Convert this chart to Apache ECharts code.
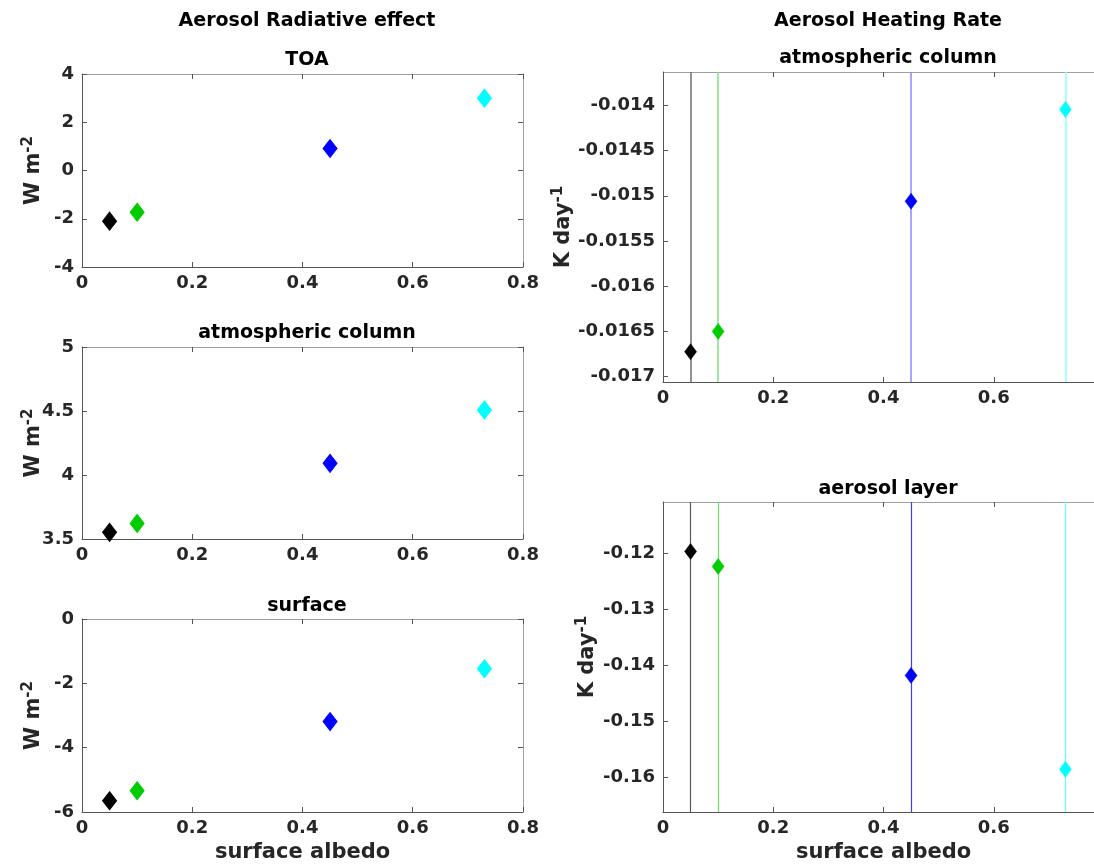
<!DOCTYPE html>
<html>
<head>
<meta charset="utf-8">
<script src="https://cdn.jsdelivr.net/npm/echarts@6/dist/echarts.min.js"></script>
<style>
  html, body { margin: 0; padding: 0; background: #fff; }
  #chart { width: 1094px; height: 866px; }
</style>
</head>
<body>
<div id="chart"></div>
<script>
// surface albedo of the four cases
var albedo = [0.05, 0.1, 0.45, 0.73];
var caseColors = ['#000000', '#00cc00', '#0000ff', '#00ffff'];
// aerosol radiative effect, W m-2
var toa = [-2.1, -1.73, 0.91, 3.0];
var atmColumn = [3.552, 3.622, 4.091, 4.508];
var surface = [-5.65, -5.34, -3.19, -1.545];
// aerosol heating rate, K day-1
var hrColumn = [-0.016725, -0.0165, -0.01506, -0.014044];
var hrLayer = [-0.1197, -0.12238, -0.14179, -0.15851];
// colours of the vertical lines in the right panels
var lineColorsTop = ['#6e6e6e', '#7ee27e', '#8a8aff', '#8affff'];
var lineColorsBottom = ['#5a5a5a', '#6ee06e', '#4040f0', '#6affff'];

var font = 'DejaVu Sans';
var txt = '#262626';

var chart = echarts.init(document.getElementById('chart'));

// grids: left, top, width, height (right column runs past the page edge, as in the original)
var grids = [
  { left: 82, top: 74, width: 441, height: 193 },
  { left: 82, top: 347, width: 441, height: 192 },
  { left: 82, top: 619, width: 441, height: 193 },
  { left: 663, top: 72, width: 441, height: 310 },
  { left: 663, top: 502, width: 441, height: 310 }
].map(function (g) { g.outerBoundsMode = 'none'; g.containLabel = false; return g; });

var yCfg = [
  { min: -4, max: 4, interval: 2, name: 'W m', sup: '-2', gap: 35 },
  { min: 3.5, max: 5, interval: 0.5, name: 'W m', sup: '-2', gap: 35 },
  { min: -6, max: 0, interval: 2, name: 'W m', sup: '-2', gap: 35 },
  { min: -0.01706, max: -0.01363, step: 0.0005, name: 'K day', sup: '-1', gap: 86 },
  { min: -0.16613, max: -0.11089, step: 0.01, name: 'K day', sup: '-1', gap: 62 }
];

var xAxes = [], yAxes = [];
grids.forEach(function (g, i) {
  var bottomPanel = (i === 2 || i === 4);
  var right = i >= 3;
  var base = {
    gridIndex: i, type: 'value', min: 0, max: 0.8, interval: 0.2,
    splitLine: { show: false },
    axisTick: { inside: true, length: 5, lineStyle: { color: '#555' } }
  };
  xAxes.push(Object.assign({}, base, {
    position: 'bottom',
    axisLine: { onZero: false, lineStyle: { color: '#555', width: 1 } },
    axisLabel: { color: txt, fontFamily: font, fontWeight: 'bold', fontSize: 18, margin: 7, showMaxLabel: !right },
    name: bottomPanel ? 'surface albedo' : '',
    nameLocation: 'middle', nameGap: 30, nameMoveOverlap: false,
    nameTextStyle: { color: txt, fontFamily: font, fontWeight: 'bold', fontSize: 21 }
  }));
  xAxes.push(Object.assign({}, base, {
    position: 'top',
    axisLine: { onZero: false, lineStyle: { color: '#a0a0a0', width: 1 } },
    axisLabel: { show: false }
  }));

  var c = yCfg[i];
  var yb = {
    gridIndex: i, type: 'value', min: c.min, max: c.max,
    splitLine: { show: false },
    axisTick: { inside: true, length: 5, lineStyle: { color: '#555' } }
  };
  if (c.interval) {
    yb.interval = c.interval;
  } else {
    yb.minInterval = c.step;
    yb.maxInterval = c.step;
  }
  yAxes.push(Object.assign({}, yb, {
    position: 'left',
    axisLine: { show: true, onZero: false, lineStyle: { color: '#555', width: 1 } },
    axisLabel: {
      color: txt, fontFamily: font, fontWeight: 'bold', fontSize: 18, margin: 8,
      showMinLabel: !!c.interval, showMaxLabel: !!c.interval
    },
    name: '{a|' + c.name + '}{s|' + c.sup + '}',
    nameLocation: 'middle', nameGap: c.gap, nameMoveOverlap: false,
    nameTextStyle: {
      rich: {
        a: { color: txt, fontFamily: font, fontWeight: 'bold', fontSize: 21, lineHeight: 26, verticalAlign: 'middle' },
        s: { color: txt, fontFamily: font, fontWeight: 'bold', fontSize: 15, lineHeight: 15, verticalAlign: 'top' }
      }
    }
  }));
  // the right edge of the right-hand panels is cut off by the page
  yAxes.push(Object.assign({}, yb, {
    show: !right,
    position: 'right',
    axisLine: { show: true, onZero: false, lineStyle: { color: '#a0a0a0', width: 1 } },
    axisLabel: { show: false }
  }));
});

function pts(vals) {
  return vals.map(function (v, k) {
    return { value: [albedo[k], v], itemStyle: { color: caseColors[k], borderColor: caseColors[k] } };
  });
}

function vlines(colors, width) {
  return {
    silent: true, symbol: 'none', label: { show: false },
    data: albedo.map(function (a, k) {
      return { xAxis: a, lineStyle: { color: colors[k], width: width, type: 'solid' } };
    })
  };
}

var panelVals = [toa, atmColumn, surface, hrColumn, hrLayer];
var series = panelVals.map(function (vals, i) {
  var right = i >= 3;
  var s = {
    type: 'scatter',
    xAxisIndex: 2 * i, yAxisIndex: 2 * i,
    symbol: 'diamond',
    symbolSize: right ? [12, 16] : [14, 18],
    itemStyle: { opacity: 1, borderWidth: right ? 0.5 : 1 },
    z: 5,
    data: pts(vals)
  };
  if (i === 3) s.markLine = vlines(lineColorsTop, 1.5);
  if (i === 4) s.markLine = vlines(lineColorsBottom, 1.2);
  return s;
});

var tStyle = { color: '#000', fontFamily: font, fontWeight: 'bold', fontSize: 19 };
var sStyle = { color: '#000', fontFamily: font, fontWeight: 'bold', fontSize: 19 };
var option = {
  backgroundColor: '#fff',
  animation: false,
  title: [
    { text: 'Aerosol Radiative effect', left: 302, top: 7, textAlign: 'center', textStyle: tStyle },
    { text: 'Aerosol Heating Rate', left: 883, top: 7, textAlign: 'center', textStyle: tStyle },
    { text: 'TOA', left: 302, top: 46, textAlign: 'center', textStyle: sStyle },
    { text: 'atmospheric column', left: 302, top: 319, textAlign: 'center', textStyle: sStyle },
    { text: 'surface', left: 302, top: 592, textAlign: 'center', textStyle: sStyle },
    { text: 'atmospheric column', left: 883, top: 44, textAlign: 'center', textStyle: sStyle },
    { text: 'aerosol layer', left: 883, top: 475, textAlign: 'center', textStyle: sStyle }
  ],
  grid: grids,
  xAxis: xAxes,
  yAxis: yAxes,
  series: series
};

chart.setOption(option);
</script>
</body>
</html>
